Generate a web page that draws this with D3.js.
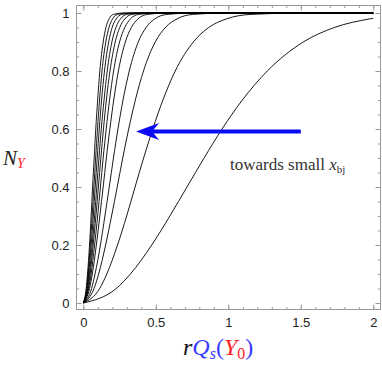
<!DOCTYPE html>
<html>
<head>
<meta charset="utf-8">
<script src="https://d3js.org/d3.v7.min.js"></script>
<style>
body { margin: 0; background: #fff; }
svg { display: block; }
</style>
</head>
<body>
<div id="chart"></div>
<script>
// N levels shared by every curve, and the r*Qs positions where each curve reaches them
var levels = [0, 0.05, 0.1, 0.2, 0.3, 0.4, 0.5, 0.6, 0.7, 0.8, 0.9, 0.95, 0.98, 0.995, 1];
var curveX = [
  [0, 0.020, 0.029, 0.043, 0.054, 0.064, 0.075, 0.086, 0.099, 0.114, 0.137, 0.156, 0.178, 0.207, 0.270],
  [0, 0.023, 0.033, 0.048, 0.061, 0.073, 0.085, 0.098, 0.112, 0.129, 0.155, 0.177, 0.202, 0.235, 0.306],
  [0, 0.026, 0.037, 0.054, 0.069, 0.082, 0.096, 0.110, 0.126, 0.146, 0.175, 0.199, 0.227, 0.265, 0.345],
  [0, 0.029, 0.042, 0.061, 0.078, 0.093, 0.108, 0.124, 0.143, 0.165, 0.197, 0.225, 0.257, 0.299, 0.390],
  [0, 0.033, 0.047, 0.068, 0.087, 0.104, 0.121, 0.139, 0.159, 0.184, 0.220, 0.251, 0.287, 0.334, 0.435],
  [0, 0.037, 0.054, 0.078, 0.099, 0.118, 0.137, 0.158, 0.181, 0.209, 0.250, 0.286, 0.326, 0.380, 0.495],
  [0, 0.043, 0.062, 0.090, 0.114, 0.137, 0.159, 0.183, 0.210, 0.242, 0.290, 0.331, 0.378, 0.440, 0.573],
  [0, 0.057, 0.081, 0.118, 0.149, 0.179, 0.208, 0.239, 0.274, 0.317, 0.379, 0.433, 0.494, 0.575, 0.750],
  [0, 0.074, 0.106, 0.154, 0.195, 0.234, 0.272, 0.313, 0.359, 0.415, 0.496, 0.566, 0.647, 0.753, 0.981],
  [0, 0.113, 0.162, 0.236, 0.299, 0.357, 0.416, 0.479, 0.549, 0.634, 0.759, 0.865, 0.989, 1.151, 1.500],
  [0, 0.227, 0.325, 0.472, 0.597, 0.715, 0.833, 0.957, 1.097, 1.269, 1.517, 1.731, 1.978]
];
// value of each curve at the right end, r*Qs = 2
var rightEdge = [1, 1, 1, 1, 1, 1, 1, 1, 1, 1, 0.982];

var xTicks = [0, 0.5, 1, 1.5, 2];
var yTicks = [0, 0.2, 0.4, 0.6, 0.8, 1];
var arrowFrom = [1.5, 0.591], arrowTo = [0.364, 0.591];

(function() {
var W = 382, H = 366;
var svg = d3.select("#chart").append("svg").attr("width", W).attr("height", H);

var x = d3.scaleLinear().domain([0, 2]).range([83.3, 373.3]);
var y = d3.scaleLinear().domain([0, 1]).range([303, 13]);
var fL = 76.5, fR = 380.5, fT = 5.5, fB = 309.5;

svg.append("clipPath").attr("id", "clip").append("rect")
  .attr("x", fL).attr("y", fT).attr("width", fR - fL).attr("height", fB - fT);

// ticks, inward on all four sides
function ticks(axis, tr, labels) {
  var g = svg.append("g").attr("transform", tr).call(axis);
  g.select(".domain").remove();
  g.selectAll(".tick line").attr("stroke", "#999");
  if (!labels) g.selectAll("text").remove();
  else g.selectAll("text")
    .attr("font-family", "'Liberation Sans', Arial, sans-serif")
    .attr("font-size", 13).attr("fill", "#222");
  return g;
}
var xMinor = d3.range(0, 20.5).map(function(d){ return d / 10; });
var yMinor = d3.range(0, 20.5).map(function(d){ return d / 20; });

ticks(d3.axisBottom(x).tickValues(xTicks).tickSize(-5).tickPadding(8).tickFormat(d3.format("")), "translate(0," + fB + ")", true);
ticks(d3.axisBottom(x).tickValues(xMinor).tickSize(-2.5), "translate(0," + fB + ")", false);
ticks(d3.axisTop(x).tickValues(xTicks).tickSize(-5), "translate(0," + fT + ")", false);
ticks(d3.axisTop(x).tickValues(xMinor).tickSize(-2.5), "translate(0," + fT + ")", false);
ticks(d3.axisLeft(y).tickValues(yTicks).tickSize(-5).tickPadding(7).tickFormat(d3.format("")), "translate(" + fL + ",0)", true);
ticks(d3.axisLeft(y).tickValues(yMinor).tickSize(-2.5), "translate(" + fL + ",0)", false);
ticks(d3.axisRight(y).tickValues(yTicks).tickSize(-5), "translate(" + fR + ",0)", false);
ticks(d3.axisRight(y).tickValues(yMinor).tickSize(-2.5), "translate(" + fR + ",0)", false);

svg.append("rect")
  .attr("x", fL).attr("y", fT).attr("width", fR - fL).attr("height", fB - fT)
  .attr("fill", "none").attr("stroke", "#999");

// curves
var line = d3.line()
  .x(function(d){ return x(d[0]); })
  .y(function(d){ return y(d[1]); })
  .curve(d3.curveMonotoneX);

svg.append("g").attr("clip-path", "url(#clip)")
  .selectAll("path").data(curveX).enter().append("path")
  .attr("d", function(xs, k) {
    var pts = xs.map(function(v, i){ return [v, levels[i]]; });
    pts.push([2, rightEdge[k]]);
    return line(pts);
  })
  .attr("fill", "none").attr("stroke", "#000").attr("stroke-width", 0.9);

// blue arrow
var ax0 = x(arrowFrom[0]), ax1 = x(arrowTo[0]), ay = y(arrowTo[1]);
svg.append("line")
  .attr("x1", ax0).attr("x2", ax1 + 15).attr("y1", ay).attr("y2", ay)
  .attr("stroke", "#0a0af5").attr("stroke-width", 4);
svg.append("path")
  .attr("d", "M0,0 L23,-8.5 L16,0 L23,8.5 Z")
  .attr("transform", "translate(" + ax1 + "," + ay + ")")
  .attr("fill", "#0a0af5");

// annotation
var note = svg.append("text")
  .attr("x", 230).attr("y", 170)
  .attr("font-family", "'Liberation Serif', 'Times New Roman', serif")
  .attr("font-size", 17).attr("fill", "#333");
note.append("tspan").text("towards small ");
note.append("tspan").attr("font-style", "italic").text("x");
note.append("tspan").attr("font-size", 11).attr("dy", 3).text("bj");

// axis titles
var yl = svg.append("text").attr("x", 3).attr("y", 165)
  .attr("font-family", "'Liberation Serif', 'Times New Roman', serif")
  .attr("font-style", "italic").attr("font-size", 21).attr("fill", "#222");
yl.append("tspan").text("N");
yl.append("tspan").attr("font-size", 14).attr("dy", 3).attr("fill", "#f22").text("Y");

var blue = "#3a3aff", red = "#ff2222";
var xl = svg.append("text").attr("x", 183).attr("y", 355)
  .attr("font-family", "'Liberation Serif', 'Times New Roman', serif")
  .attr("font-size", 24).attr("fill", "#111");
xl.append("tspan").attr("font-style", "italic").text("r");
xl.append("tspan").attr("font-style", "italic").attr("fill", blue).text("Q");
xl.append("tspan").attr("font-style", "italic").attr("fill", blue).attr("font-size", 16).attr("dy", 4).text("s");
xl.append("tspan").attr("fill", blue).attr("dy", -4).text("(");
xl.append("tspan").attr("font-style", "italic").attr("fill", red).text("Y");
xl.append("tspan").attr("fill", red).attr("font-size", 16).attr("dy", 4).text("0");
xl.append("tspan").attr("fill", blue).attr("dy", -4).text(")");
})();
</script>
</body>
</html>
